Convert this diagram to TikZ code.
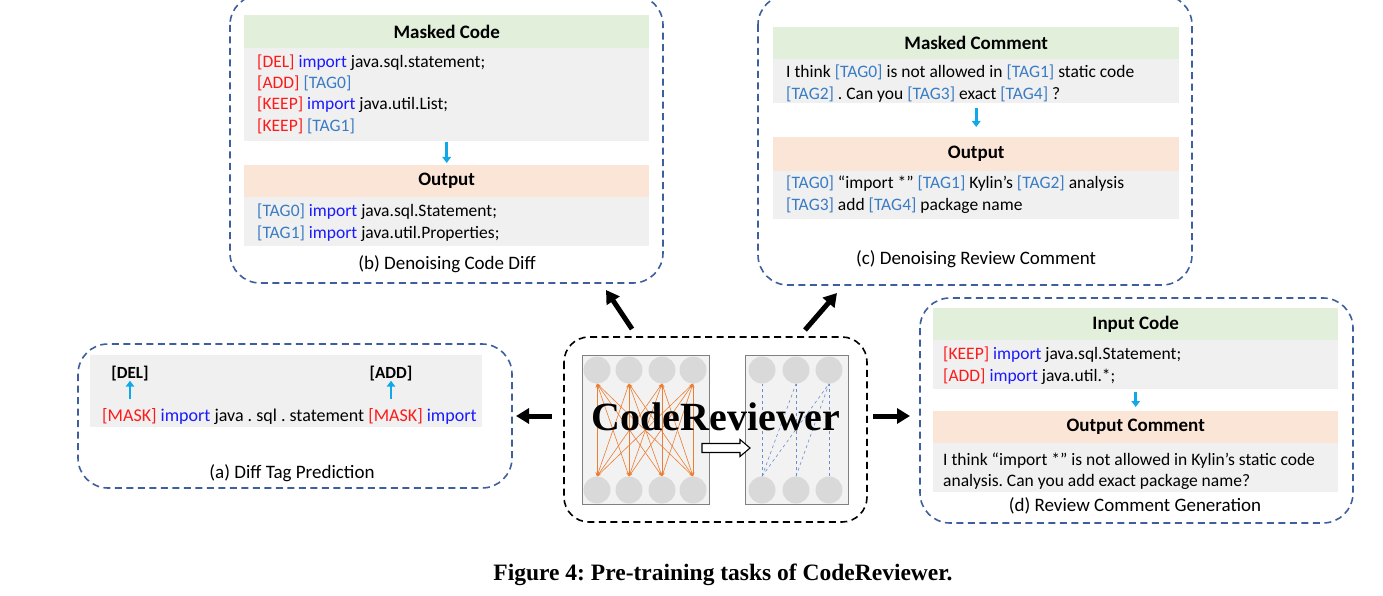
\documentclass[tikz,border=0pt]{standalone}
\usepackage{fontspec}
\setmainfont{Carlito}
\newfontfamily\timesfont{Liberation Serif}
\usetikzlibrary{arrows.meta}
\definecolor{tagred}{HTML}{FF1A1A}
\definecolor{kwblue}{HTML}{1A1AFF}
\definecolor{tagblue}{HTML}{3A7CC4}
\definecolor{boxblue}{HTML}{3E5E9E}
\definecolor{hdrgreen}{HTML}{E2EFDA}
\definecolor{hdrorange}{HTML}{FBE5D6}
\definecolor{bodygray}{HTML}{F0F0F0}
\definecolor{arrowcyan}{HTML}{10A8E8}
\definecolor{nodegray}{HTML}{D9D9D9}
\definecolor{panelgray}{HTML}{F2F2F2}
\definecolor{edgeorange}{HTML}{ED7D31}
\definecolor{edgeblue}{HTML}{4472C4}
\newcommand{\redtag}[1]{\textcolor{tagred}{#1}}
\newcommand{\impkw}[1]{\textcolor{kwblue}{#1}}
\newcommand{\bluetag}[1]{\textcolor{tagblue}{#1}}
\frenchspacing
\begin{document}
\begin{tikzpicture}[x=1pt,y=-1pt,
  dbox/.style={draw=boxblue, line width=1.6pt, dash pattern=on 7pt off 4.5pt, rounded corners=30pt},
  cbox/.style={draw=black, line width=1.6pt, dash pattern=on 7pt off 4.5pt, rounded corners=25pt},
  hdrG/.style={fill=hdrgreen, inner sep=0pt, anchor=north west, font=\bfseries\fontsize{19}{22}\selectfont},
  hdrO/.style={fill=hdrorange, inner sep=0pt, anchor=north west, font=\bfseries\fontsize{19}{22}\selectfont},
  bodybox/.style={fill=bodygray, inner sep=0pt, anchor=north west},
  txt/.style={inner sep=0pt, anchor=base west, font=\fontsize{17.5}{21}\selectfont},
  panelcap/.style={inner sep=0pt, font=\fontsize{19}{22}\selectfont},
  cyarrow/.style={draw=arrowcyan, line width=2.6pt, -{Triangle[length=6pt,width=8.5pt]}, shorten <=1pt, shorten >=2pt},
  bigarrow/.style={draw=black, line width=5pt, -{Triangle[length=13pt,width=15pt]}},
  circ/.style={circle, fill=nodegray, minimum size=27pt, inner sep=0pt},
  oedge/.style={draw=edgeorange, line width=0.6pt, {Stealth[length=4pt,width=3pt]}-{Stealth[length=4pt,width=3pt]}},
  bedge/.style={draw=edgeblue!80, line width=0.6pt, dashed}
]
\useasboundingbox (0,0) rectangle (1383,596);

% ---------------- panel (b)
\draw[dbox] (230,-5) rectangle (663,283);
\node[hdrG, minimum width=405pt, minimum height=33pt] (bh1) at (244,15) {Masked Code};
\node[bodybox, minimum width=405pt, minimum height=93pt] (bb1) at (244,48) {};
\node[hdrO, minimum width=405pt, minimum height=32pt] (bh2) at (244,165) {Output};
\node[bodybox, minimum width=405pt, minimum height=49pt] (bb2) at (244,197) {};
\draw[cyarrow] (bb1.south) -- (bh2.north);
\node[txt] (bl1) at (257,68) {\redtag{[DEL]} \impkw{import} java.sql.statement;};
\node[txt] (bl2) at (257,89) {\redtag{[ADD]} \bluetag{[TAG0]}};
\node[txt] (bl3) at (257,110) {\redtag{[KEEP]} \impkw{import} java.util.List;};
\node[txt] (bl4) at (257,132) {\redtag{[KEEP]} \bluetag{[TAG1]}};
\node[txt] (bl5) at (257,216) {\bluetag{[TAG0]} \impkw{import} java.sql.Statement;};
\node[txt] (bl6) at (257,238) {\bluetag{[TAG1]} \impkw{import} java.util.Properties;};
\node[panelcap] (bcap) at (447,264) {(b) Denoising Code Diff};

% ---------------- panel (c)
\draw[dbox] (758,-5) rectangle (1192,285);
\node[hdrG, minimum width=406pt, minimum height=32pt] (ch1) at (773,27) {Masked Comment};
\node[bodybox, minimum width=406pt, minimum height=44pt] (cb1) at (773,59) {};
\node[hdrO, minimum width=406pt, minimum height=34pt] (ch2) at (773,137) {Output};
\node[bodybox, minimum width=406pt, minimum height=48pt] (cb2) at (773,171) {};
\draw[cyarrow] ([yshift=-4pt]cb1.south) -- ([yshift=8pt]ch2.north);
\node[txt] (cl1) at (786,78) {I think \bluetag{[TAG0]} is not allowed in \bluetag{[TAG1]} static code};
\node[txt] (cl2) at (786,100) {\bluetag{[TAG2]} . Can you \bluetag{[TAG3]} exact \bluetag{[TAG4]} ?};
\node[txt] (cl3) at (786,189) {\bluetag{[TAG0]} “import *" \bluetag{[TAG1]} Kylin’s \bluetag{[TAG2]} analysis};
\node[txt] (cl4) at (786,210) {\bluetag{[TAG3]} add \bluetag{[TAG4]} package name};
\node[panelcap] (ccap) at (976,259) {(c) Denoising Review Comment};

% ---------------- panel (a)
\draw[dbox] (78,344) rectangle (512,488);
\node[bodybox, minimum width=392pt, minimum height=72pt] (ab) at (90,355) {};
\node[inner sep=0pt, anchor=base, font=\bfseries\fontsize{17}{20}\selectfont] (adel) at (130,378) {[DEL]};
\node[inner sep=0pt, anchor=base, font=\bfseries\fontsize{17}{20}\selectfont] (aadd) at (391,378) {[ADD]};
\node[txt, font=\fontsize{18}{21}\selectfont] (al) at (102,421) {\redtag{[MASK]} \impkw{import} java . sql . statement \redtag{[MASK]} \impkw{import}};
\coordinate (adelb) at (130,400);
\coordinate (aaddb) at (391,400);
\draw[cyarrow] (adelb) -- ([yshift=2pt]adel.south);
\draw[cyarrow] (aaddb) -- ([yshift=2pt]aadd.south);
\node[panelcap] (acap) at (292,473) {(a) Diff Tag Prediction};

% ---------------- panel (d)
\draw[dbox] (920,298) rectangle (1353,523);
\node[hdrG, minimum width=405pt, minimum height=32pt] (dh1) at (933,308) {Input Code};
\node[bodybox, minimum width=405pt, minimum height=49pt] (db1) at (933,340) {};
\node[hdrO, minimum width=405pt, minimum height=32pt] (dh2) at (933,411) {Output Comment};
\node[bodybox, minimum width=405pt, minimum height=49pt] (db2) at (933,443) {};
\draw[cyarrow] ([yshift=-2pt]db1.south) -- ([yshift=2pt]dh2.north);
\node[txt] (dl1) at (943,359) {\redtag{[KEEP]} \impkw{import} java.sql.Statement;};
\node[txt] (dl2) at (943,381) {\redtag{[ADD]} \impkw{import} java.util.*;};
\node[txt] (dl3) at (943,465) {I think “import *” is not allowed in Kylin’s static code};
\node[txt] (dl4) at (943,486) {analysis. Can you add exact package name?};
\node[panelcap] (dcap) at (1135,506) {(d) Review Comment Generation};

% ---------------- center: CodeReviewer
\draw[cbox] (564,337) rectangle (867,522);
\draw[draw=gray, fill=panelgray, line width=1pt] (582,355) rectangle (709,504);
\draw[draw=gray, fill=panelgray, line width=1pt] (745,355) rectangle (848,504);
\foreach \n/\x in {1/597,2/629,3/662,4/693}{
  \node[circ] (Lt\n) at (\x,370) {};
  \node[circ] (Lb\n) at (\x,490) {};
}
\foreach \n/\x in {1/762,2/796,3/829}{
  \node[circ] (Rt\n) at (\x,370) {};
  \node[circ] (Rb\n) at (\x,490) {};
}
\foreach \i in {1,2,3,4}{
  \foreach \j in {1,2,3,4}{
    \draw[oedge] (Lt\i.south) -- (Lb\j.north);
  }
}
\draw[bedge] (Rb1.north) -- (Rt1.south);
\draw[bedge] (Rb1.north) -- (Rt2.south);
\draw[bedge] (Rb1.north) -- (Rt3.south);
\draw[bedge] (Rb2.north) -- (Rt2.south);
\draw[bedge] (Rb2.north) -- (Rt3.south);
\draw[bedge] (Rb3.north) -- (Rt3.south);
\draw[fill=white, draw=black, line width=1.1pt] (702,443.5) -- (740,443.5) -- (740,439.5) -- (750,448) -- (740,456.5) -- (740,452.5) -- (702,452.5) -- cycle;
\node[inner sep=0pt, anchor=base, font=\timesfont\bfseries\fontsize{40}{44}\selectfont] (cr) at (716,430) {CodeReviewer};

% ---------------- big arrows
\coordinate (lt) at (552,416); \coordinate (lh) at (516,416);
\coordinate (rt) at (873,416); \coordinate (rh) at (910,416);
\coordinate (ult) at (632,329); \coordinate (ulh) at (606,290);
\coordinate (urt) at (805,330); \coordinate (urh) at (837,293);
\draw[bigarrow] (lt) -- (lh);
\draw[bigarrow] (rt) -- (rh);
\draw[bigarrow] (ult) -- (ulh);
\draw[bigarrow] (urt) -- (urh);

% ---------------- caption
\node[inner sep=0pt, font=\timesfont\bfseries\fontsize{23.5}{27}\selectfont] (fig) at (723,575) {Figure 4: Pre-training tasks of CodeReviewer.};
\end{tikzpicture}
\end{document}
